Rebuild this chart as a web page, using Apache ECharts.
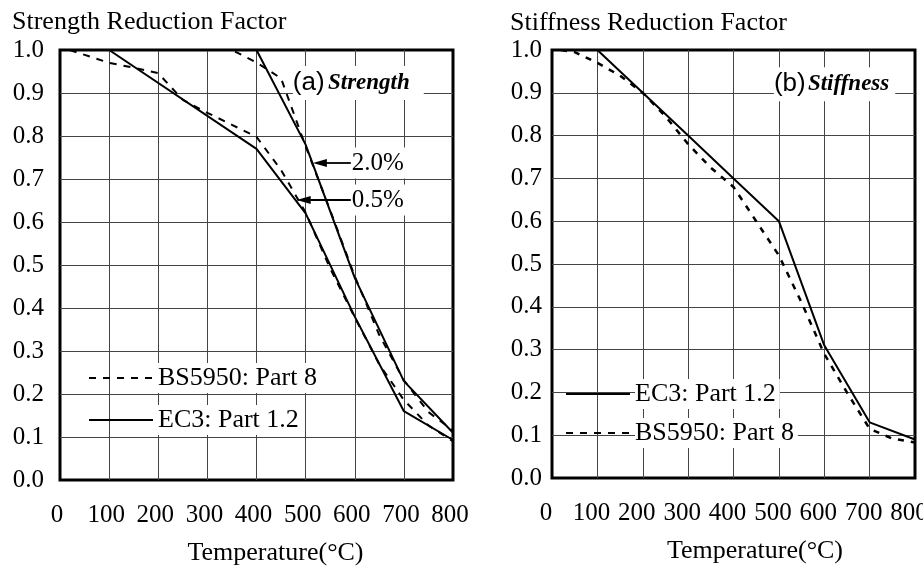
<!DOCTYPE html>
<html><head><meta charset="utf-8">
<script src="https://cdn.jsdelivr.net/npm/echarts@6/dist/echarts.min.js"></script>
<style>html,body{margin:0;padding:0;background:#fff}#c{width:923px;height:566px}</style>
</head><body><div id="c"></div>
<script>
// ---- data ----
const tempTicks = [0, 100, 200, 300, 400, 500, 600, 700, 800];
const factorTicks = [0.0, 0.1, 0.2, 0.3, 0.4, 0.5, 0.6, 0.7, 0.8, 0.9, 1.0];

// (a) Strength
const ec3Str05T = [0, 100, 400, 500, 600, 700, 800];
const ec3Str05 = [1.0, 1.0, 0.77, 0.62, 0.38, 0.16, 0.093];
const ec3Str20T = [0, 400, 500, 600, 700, 800];
const ec3Str20 = [1.0, 1.0, 0.78, 0.47, 0.23, 0.11];
const bsStr05T = [20, 100, 150, 200, 250, 300, 350, 400, 450, 500, 550, 600, 650, 700, 750, 800];
const bsStr05 = [1.0, 0.970, 0.959, 0.946, 0.884, 0.854, 0.826, 0.798, 0.721, 0.622, 0.492, 0.378, 0.269, 0.186, 0.127, 0.09];
const bsStr20T = [300, 350, 400, 450, 500, 550, 600, 650, 700, 750, 800];
const bsStr20 = [1.0, 1.0, 0.971, 0.934, 0.776, 0.627, 0.474, 0.337, 0.232, 0.158, 0.115];

// (b) Stiffness
const ec3StiffT = [0, 100, 200, 300, 400, 500, 600, 700, 800];
const ec3Stiff = [1.0, 1.0, 0.9, 0.8, 0.7, 0.6, 0.31, 0.13, 0.09];
const bsStiffT = [20, 50, 100, 150, 200, 250, 300, 350, 400, 450, 500, 550, 600, 650, 700, 750, 800];
const bsStiff = [1.0, 0.995, 0.97, 0.94, 0.90, 0.845, 0.78, 0.725, 0.68, 0.60, 0.52, 0.41, 0.29, 0.20, 0.115, 0.092, 0.083];

const nameEC3 = 'EC3: Part 1.2';
const nameBS = 'BS5950: Part 8';
// ---- end data ----

const zip = (xs, ys) => xs.map((x, i) => [x, ys[i]]);
const SERIF = "'Liberation Serif', 'Times New Roman', serif";
const SANS = "'Liberation Sans', Arial, sans-serif";

const chart = echarts.init(document.getElementById('c'), null, {renderer: 'canvas'});

function xAxis(gi, padRight, namePadLeft) {
  return {
    type: 'value', gridIndex: gi, min: tempTicks[0], max: tempTicks[tempTicks.length - 1],
    interval: tempTicks[1] - tempTicks[0],
    name: 'Temperature(°C)', nameLocation: 'middle', nameGap: 60,
    nameTextStyle: {fontFamily: SERIF, fontSize: 26, color: '#000', padding: [0, 0, 0, namePadLeft]},
    axisLine: {show: false}, axisTick: {show: false},
    axisLabel: {fontFamily: SERIF, fontSize: 25, color: '#000', margin: 23, padding: [0, padRight, 0, 0]},
    splitLine: {show: true, showMinLine: false, showMaxLine: false, lineStyle: {color: '#444', width: 1}}
  };
}
function yAxis(gi, margin) {
  return {
    type: 'value', gridIndex: gi, min: factorTicks[0], max: factorTicks[factorTicks.length - 1],
    interval: 0.1,
    axisLine: {show: false}, axisTick: {show: false},
    axisLabel: {fontFamily: SERIF, fontSize: 25, color: '#000', margin: margin,
      formatter: v => v.toFixed(1)},
    splitLine: {show: true, showMinLine: false, showMaxLine: false, lineStyle: {color: '#444', width: 1}}
  };
}

const solid = {color: '#000', width: 2, type: 'solid'};
const dashed = {color: '#000', width: 2, type: [7, 7]};
const dashedB = {color: '#000', width: 2.5, type: [6, 7]};

function lineSeries(name, gi, data, ls, extra) {
  return Object.assign({
    type: 'line', name: name, xAxisIndex: gi, yAxisIndex: gi, data: data,
    symbol: 'none', smooth: false, lineStyle: ls, itemStyle: {color: '#000'},
    silent: true, z: 5
  }, extra || {});
}

const arrowMark = {
  silent: true, symbol: ['none', 'triangle'], symbolSize: [8, 14],
  label: {show: false}, lineStyle: {color: '#000', width: 1.8, type: 'solid'},
  emphasis: {disabled: true},
  data: [
    [{coord: [592, 0.737]}, {coord: [529, 0.737]}],
    [{coord: [592, 0.651]}, {coord: [496, 0.651]}]
  ]
};

const legendText = {fontFamily: SERIF, fontSize: 26, color: '#000', lineHeight: 26, backgroundColor: '#fff', padding: [2, 4, 2, 0]};

const gridCommon = {show: true, borderColor: '#000', borderWidth: 3, backgroundColor: 'transparent', containLabel: false, outerBoundsMode: 'none'};

const option = {
  animation: false,
  backgroundColor: '#fff',
  title: [
    {text: 'Strength Reduction Factor', left: 12, top: 9, padding: 0,
     textStyle: {fontFamily: SERIF, fontSize: 26, fontWeight: 'normal', color: '#000'}},
    {text: 'Stiffness Reduction Factor', left: 510, top: 10, padding: 0,
     textStyle: {fontFamily: SERIF, fontSize: 26, fontWeight: 'normal', color: '#000'}}
  ],
  grid: [
    Object.assign({left: 60, top: 50, width: 393, height: 430}, gridCommon),
    Object.assign({left: 552, top: 50, width: 363, height: 428}, gridCommon)
  ],
  xAxis: [xAxis(0, 6, 38), xAxis(1, 12, 43)],
  yAxis: [yAxis(0, 16), yAxis(1, 10)],
  legend: [
    {orient: 'vertical', left: 88, top: 363, itemWidth: 64, itemHeight: 14, itemGap: 12,
     selectedMode: false, data: [nameBS, nameEC3], padding: 0,
     itemStyle: {opacity: 0}, textStyle: legendText},
    {orient: 'vertical', left: 565, top: 379, itemWidth: 64, itemHeight: 14, itemGap: 9,
     selectedMode: false, data: [nameEC3, nameBS], padding: 0,
     itemStyle: {opacity: 0}, textStyle: legendText}
  ],
  series: [
    lineSeries(nameBS, 0, zip(bsStr05T, bsStr05), dashed),
    lineSeries(nameBS, 0, zip(bsStr20T, bsStr20), dashed),
    lineSeries(nameEC3, 0, zip(ec3Str05T, ec3Str05), solid),
    lineSeries(nameEC3, 0, zip(ec3Str20T, ec3Str20), solid, {markLine: arrowMark}),
    lineSeries(nameEC3, 1, zip(ec3StiffT, ec3Stiff), solid),
    lineSeries(nameBS, 1, zip(bsStiffT, bsStiff), dashedB)
  ]
};
chart.setOption(option);

// annotations positioned from data coordinates
const P = (gi, pt) => chart.convertToPixel({gridIndex: gi}, pt);
const a = P(0, [474, 0.923]);
const b = P(1, [489, 0.92]);
const t20 = P(0, [594, 0.737]);
const t05 = P(0, [594, 0.651]);
const richAB = {
  p: {fontFamily: SANS, fontSize: 26, fill: '#000'},
  q: {fontFamily: SERIF, fontSize: 23, fontWeight: 'bold', fontStyle: 'italic', fill: '#000'},
  s: {fontFamily: SANS, fontSize: 8}
};
chart.setOption({
  graphic: [
    {type: 'text', z: 10, x: a[0], y: a[1], style: {text: '{p|(a)} {q|Strength}', rich: richAB, verticalAlign: 'middle', backgroundColor: '#fff', padding: [4, 14, 4, 0]}},
    {type: 'text', z: 10, x: b[0], y: b[1], style: {text: '{p|(b)}{s| }{q|Stiffness}', rich: richAB, verticalAlign: 'middle', backgroundColor: '#fff', padding: [4, 6, 4, 0]}},
    {type: 'text', z: 10, x: t20[0], y: t20[1], style: {text: '2.0%', font: '25px ' + SERIF, fill: '#000', verticalAlign: 'middle', backgroundColor: '#fff', padding: [3, 8, 3, 0]}},
    {type: 'text', z: 10, x: t05[0], y: t05[1], style: {text: '0.5%', font: '25px ' + SERIF, fill: '#000', verticalAlign: 'middle', backgroundColor: '#fff', padding: [3, 8, 3, 0]}}
  ]
});
</script>
</body></html>
